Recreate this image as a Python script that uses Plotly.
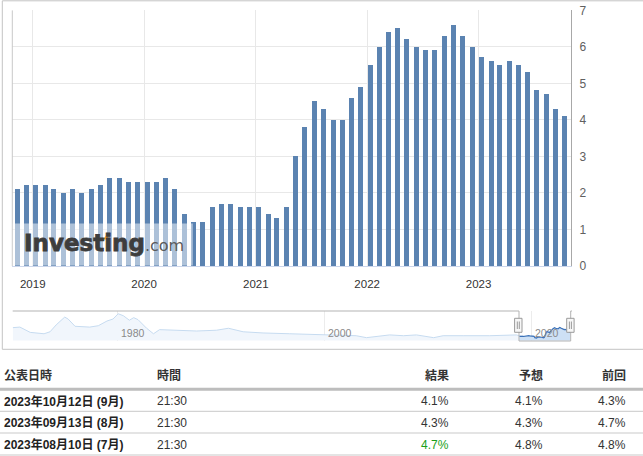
import pandas as pd
import plotly.graph_objects as go

W, H = 643, 456

# ---------------- data ----------------
# US core CPI YoY (%), data months 2018-10 .. 2023-09, plotted at release month
core_values = [
    2.1, 2.2, 2.2,
    2.2, 2.1, 2.0, 2.1, 2.0, 2.1, 2.2, 2.4, 2.4, 2.3, 2.3, 2.3,
    2.3, 2.4, 2.1, 1.4, 1.2, 1.2, 1.6, 1.7, 1.7, 1.6, 1.6, 1.6,
    1.4, 1.3, 1.6, 3.0, 3.8, 4.5, 4.3, 4.0, 4.0, 4.6, 4.9, 5.5,
    6.0, 6.4, 6.5, 6.2, 6.0, 5.9, 5.9, 6.3, 6.6, 6.3, 6.0, 5.7,
    5.6, 5.5, 5.6, 5.5, 5.3, 4.8, 4.7, 4.3, 4.1,
]
release_dates = list(pd.date_range("2018-11-01", periods=len(core_values), freq="MS") + pd.Timedelta(days=11))

y_ticks = [0, 1, 2, 3, 4, 5, 6, 7]

# long-history navigator series
nav_dates = ["1969-11-20", "1970-08-01", "1971-08-01", "1972-12-01", "1973-07-01", "1974-02-01",
             "1974-12-01", "1975-04-01", "1975-12-01", "1977-05-01", "1978-03-01", "1979-01-01",
             "1979-08-01", "1980-02-01", "1980-08-01", "1981-03-01", "1981-08-01", "1982-01-01",
             "1982-11-01", "1983-07-01", "1984-02-01", "1985-10-01", "1987-09-01", "1989-08-01",
             "1990-10-01", "1992-03-01", "1994-02-01", "1996-09-01", "1999-12-01", "2003-02-01",
             "2004-02-01", "2005-02-01", "2006-05-01", "2007-09-01", "2008-12-01", "2010-08-01",
             "2011-07-01", "2013-07-01", "2016-01-01", "2018-08-01"]
nav_values = [6.5, 6.8, 4.1, 3.4, 4.4, 7.9,
              11.9, 10.9, 7.2, 6.8, 7.5, 9.9,
              10.9, 13.6, 12.6, 10.3, 11.6, 10.6,
              6.2, 3.4, 5.5, 5.2, 4.8, 5.2,
              6.2, 4.4, 3.8, 3.4, 2.8, 2.4,
              1.4, 2.1, 2.8, 2.4, 2.8, 1.4,
              2.4, 2.4, 2.4, 2.8]
nav_tick_years = ["1980", "2000", "2020"]

# table below the chart
tbl_headers = ["公表日時", "時間", "結果", "予想", "前回"]
tbl_dates = ["2023年10月12日 (9月)", "2023年09月13日 (8月)", "2023年08月10日 (7月)"]
tbl_times = ["21:30", "21:30", "21:30"]
tbl_actual = ["4.1%", "4.3%", "4.7%"]
tbl_forecast = ["4.1%", "4.3%", "4.8%"]
tbl_previous = ["4.3%", "4.7%", "4.8%"]
tbl_actual_colors = ["#333333", "#333333", "#1a9f1a"]


# ---------------- helpers (pixel -> paper) ----------------
def px(x):
    return x / W


def py(y):
    return 1 - y / H


FONT = "Liberation Sans, Arial, Noto Sans CJK JP, sans-serif"
BAR_COLOR = "#5b83b1"

fig = go.Figure()

# main bars
bar_width_ms = 16.4 * 86400000
fig.add_trace(go.Bar(x=release_dates, y=core_values, width=bar_width_ms,
                     marker=dict(color=BAR_COLOR, line=dict(width=0)),
                     xaxis="x", yaxis="y", hoverinfo="x+y"))

# navigator: full history (light) + selected range (dark)
nav_x = nav_dates + [d.strftime("%Y-%m-%d") for d in release_dates]
nav_y = nav_values + core_values
fig.add_trace(go.Scatter(x=nav_x, y=nav_y, mode="lines", line=dict(color="#c6dbf0", width=1),
                         fill="tozeroy", fillcolor="#f1f6fc", xaxis="x2", yaxis="y2", hoverinfo="skip"))
fig.add_trace(go.Scatter(x=release_dates, y=core_values, mode="lines", line=dict(color="#3d72b8", width=1.2),
                         fill="tozeroy", fillcolor="#cde0f5", xaxis="x2", yaxis="y2", hoverinfo="skip"))

shapes = []
# outer border of chart container
shapes.append(dict(type="rect", xref="paper", yref="paper", x0=px(2.3), x1=px(660), y0=py(349.3), y1=py(0.8),
                   line=dict(color="#c4c4c4", width=1), fillcolor="rgba(0,0,0,0)", layer="below"))
# left border line of plot
shapes.append(dict(type="line", xref="paper", yref="paper", x0=px(12.3), x1=px(12.3), y0=py(266), y1=py(10.4),
                   line=dict(color="#c8c8c8", width=1), layer="above"))
# watermark backing (lightens bars)
shapes.append(dict(type="rect", xref="paper", yref="paper", x0=px(12.8), x1=px(192.8), y0=py(265.5), y1=py(223.5),
                   line=dict(width=0), fillcolor="rgba(255,255,255,0.5)", layer="above"))
# orange accent in logo
shapes.append(dict(type="path", xref="paper", yref="paper",
                   path=f"M {px(103.0)},{py(239.5)} L {px(108.0)},{py(239.5)} L {px(108.0)},{py(232.5)} Z",
                   line=dict(width=0), fillcolor="#f5a623", layer="above"))

# navigator outline
xl, xr = 12.7, 572
h1, h2 = 519, 570.7
top, bot = 311, 341
shapes.append(dict(type="path", xref="paper", yref="paper",
                   path=(f"M {px(xl)},{py(top)} L {px(h1)},{py(top)} L {px(h1)},{py(bot)} "
                         f"L {px(h2)},{py(bot)} L {px(h2)},{py(top)} L {px(xr)},{py(top)}"),
                   line=dict(color="#b3b3b3", width=1), layer="above"))
# handles
for hc in (h1 - 0.7, h2 - 0.3):
    shapes.append(dict(type="rect", xref="paper", yref="paper", x0=px(hc - 3.7), x1=px(hc + 3.7),
                       y0=py(332.3), y1=py(318.3), line=dict(color="#9a9a9a", width=1),
                       fillcolor="#f7f7f7", layer="above"))
    for gx in (hc - 1.0, hc + 1.0):
        shapes.append(dict(type="line", xref="paper", yref="paper", x0=px(gx), x1=px(gx),
                           y0=py(329), y1=py(321.5), line=dict(color="#9a9a9a", width=1), layer="above"))

# table rules
shapes.append(dict(type="line", xref="paper", yref="paper", x0=0, x1=1, y0=py(389.3), y1=py(389.3),
                   line=dict(color="#bdbdbd", width=3)))
for yy in (411.3, 433.0, 455.0):
    shapes.append(dict(type="line", xref="paper", yref="paper", x0=0, x1=1, y0=py(yy), y1=py(yy),
                       line=dict(color="#c9c9c9", width=1)))

annotations = []
# logo
annotations.append(dict(xref="paper", yref="paper", x=px(21.5), y=py(243.5), xanchor="left", yanchor="middle",
                        showarrow=False,
                        text=("<span style='stroke:#3d3d3d;stroke-width:0.8px'><b>Investing</b></span>"
                              "<span style='font-size:16px;color:#5a5a5a'>.com</span>"),
                        font=dict(family="DejaVu Sans", size=23, color="#3d3d3d")))
# navigator tick labels
for yr in nav_tick_years:
    annotations.append(dict(xref="x2", yref="paper", x=f"{yr}-01-01", y=py(332.5), xanchor="left",
                            yanchor="middle", xshift=2, showarrow=False, text=yr,
                            font=dict(family=FONT, size=10.5, color="#8a8a8a")))

# table text
col_x = [2.0, 154.5, 450.5, 544.5, 628.0]
col_anchor = ["left", "left", "right", "right", "right"]
header_y = 375.5
row_y = [401.0, 422.5, 444.5]
for txt, cx, anc in zip(tbl_headers, col_x, col_anchor):
    annotations.append(dict(xref="paper", yref="paper", x=px(cx), y=py(header_y), xanchor=anc, yanchor="middle",
                            showarrow=False, text=f"<b>{txt}</b>", font=dict(family=FONT, size=12, color="#333333")))
for i in range(len(tbl_dates)):
    cells = [(f"<b>{tbl_dates[i]}</b>", "#222222"), (tbl_times[i], "#333333"),
             (tbl_actual[i], tbl_actual_colors[i]), (tbl_forecast[i], "#333333"), (tbl_previous[i], "#333333")]
    for (txt, col), cx, anc in zip(cells, col_x, col_anchor):
        annotations.append(dict(xref="paper", yref="paper", x=px(cx), y=py(row_y[i]), xanchor=anc,
                                yanchor="middle", showarrow=False, text=txt,
                                font=dict(family=FONT, size=12, color=col)))

fig.update_layout(
    width=W, height=H, margin=dict(l=0, r=0, t=0, b=0, pad=0, autoexpand=False),
    paper_bgcolor="white", plot_bgcolor="white",
    showlegend=False, bargap=0,
    font=dict(family=FONT, size=12, color="#333333"),
    xaxis=dict(domain=[px(12.3), px(571)], type="date", range=["2018-10-26", "2023-10-31"],
               tick0="2019-01-01", dtick="M12", tickformat="%Y", showgrid=True, gridcolor="#e8e8e8",
               showline=True, linecolor="#ccd6eb", linewidth=1, ticks="", ticklabelstandoff=7,
               tickfont=dict(family=FONT, size=11.5, color="#333333"), zeroline=False, fixedrange=True,
               automargin=False),
    yaxis=dict(domain=[py(266), py(10.4)], range=[0, 7], tickvals=y_ticks, side="right",
               showgrid=True, gridcolor="#e8e8e8", showline=True, linecolor="#a8a8a8", linewidth=1,
               ticks="", ticklabelstandoff=5, tickfont=dict(family=FONT, size=12, color="#606060"),
               zeroline=False, fixedrange=True, automargin=False),
    xaxis2=dict(domain=[px(xl), px(xr)], anchor="y2", type="date", range=["1969-11-20", "2023-12-15"],
                tickvals=[f"{y}-01-01" for y in nav_tick_years], showticklabels=False, showgrid=True,
                gridcolor="#ececec", showline=False, zeroline=False, ticks="", fixedrange=True,
                automargin=False),
    yaxis2=dict(domain=[py(bot), py(top)], anchor="x2", range=[-0.3, 15], visible=False, fixedrange=True,
                automargin=False),
    shapes=shapes, annotations=annotations,
)

fig.write_html("out.html")
